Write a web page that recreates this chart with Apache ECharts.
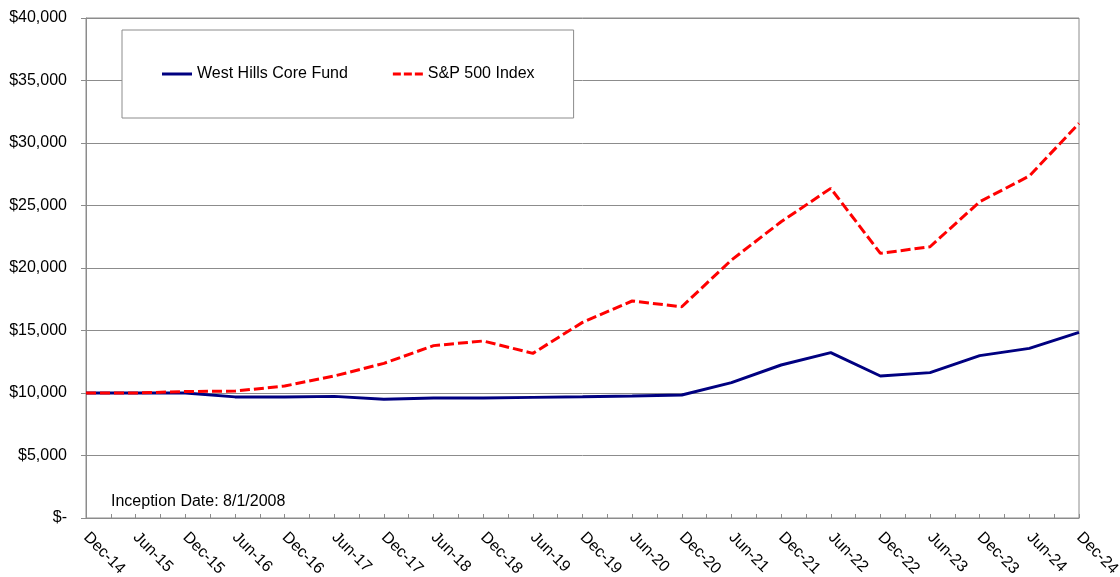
<!DOCTYPE html>
<html>
<head>
<meta charset="utf-8">
<script src="https://cdn.jsdelivr.net/npm/echarts@6/dist/echarts.min.js"></script>
<style>
html,body{margin:0;padding:0;background:#fff;overflow:hidden;}
#chart{width:1120px;height:577px;}
</style>
</head>
<body>
<div id="chart"></div>
<script>
var categories = ['Dec-14','Jun-15','Dec-15','Jun-16','Dec-16','Jun-17','Dec-17','Jun-18','Dec-18','Jun-19','Dec-19','Jun-20','Dec-20','Jun-21','Dec-21','Jun-22','Dec-22','Jun-23','Dec-23','Jun-24','Dec-24'];
var fundValues = [10000,10000,10000,9690,9680,9730,9500,9600,9600,9650,9700,9760,9840,10830,12240,13230,11360,11630,12990,13570,14850];
var spValues = [10000,10000,10120,10150,10560,11360,12370,13790,14160,13170,15650,17360,16900,20640,23700,26370,21170,21700,25300,27360,31570];
var yTicks = [0,5000,10000,15000,20000,25000,30000,35000,40000];
var fundName = 'West Hills Core Fund';
var spName = 'S&P 500 Index';
var noteText = 'Inception Date: 8/1/2008';

function pairs(vals){ return vals.map(function(v,i){ return [i, v]; }); }
function money(v){
  if (v === 0) return '$-';
  return '$' + v.toString().replace(/\B(?=(\d{3})+(?!\d))/g, ',');
}
var FONT = '"Liberation Sans", Arial, sans-serif';
var GRAY = '#8c8c8c';

var chart = echarts.init(document.getElementById('chart'), null, {renderer:'canvas'});
chart.setOption({
  animation: false,
  backgroundColor: '#ffffff',
  textStyle: {fontFamily: FONT},
  grid: {left: 86, right: 41, top: 18, bottom: 59, show: true, borderColor: GRAY, borderWidth: 1,
         containLabel: false, outerBoundsMode: 'none'},
  legend: {
    left: 122, top: 30,
    padding: [36, 39, 36, 40],
    itemGap: 45,
    itemWidth: 30, itemHeight: 3,
    backgroundColor: '#ffffff',
    borderColor: GRAY, borderWidth: 1,
    textStyle: {fontFamily: FONT, fontSize: 16, color: '#000'},
    data: [
      {name: fundName, icon: 'rect'},
      {name: spName, icon: 'path://M0,0h8v3h-8z M11,0h8v3h-8z M22,0h8v3h-8z'}
    ]
  },
  xAxis: {
    type: 'value', min: 0, max: categories.length - 1, interval: 0.5,
    axisLine: {show: true, lineStyle: {color: GRAY, width: 1}},
    axisTick: {show: true, inside: true, length: 4, lineStyle: {color: GRAY}},
    splitLine: {show: false},
    axisLabel: {
      rotate: -45, margin: 17, fontSize: 16, color: '#000', fontFamily: FONT,
      showMinLabel: true, showMaxLabel: true, hideOverlap: false,
      formatter: function(v){ return Number.isInteger(v) ? categories[v] : ''; }
    }
  },
  yAxis: {
    type: 'value', min: yTicks[0], max: yTicks[yTicks.length-1], interval: yTicks[1]-yTicks[0],
    axisLine: {show: true, lineStyle: {color: GRAY, width: 1}},
    axisTick: {show: true, inside: false, length: 5, lineStyle: {color: GRAY}},
    splitLine: {show: true, lineStyle: {color: GRAY, width: 1}},
    axisLabel: {margin: 19, fontSize: 16, color: '#000', fontFamily: FONT, formatter: money}
  },
  graphic: [{
    type: 'text', left: 111, top: 494, z: 10,
    style: {text: noteText, fontSize: 16, fontFamily: FONT, fill: '#000'}
  }],
  series: [
    {name: fundName, type: 'line', data: pairs(fundValues), symbol: 'none', z: 2,
     lineStyle: {color: '#000080', width: 3}, itemStyle: {color: '#000080'}},
    {name: spName, type: 'line', data: pairs(spValues), symbol: 'none', z: 3,
     lineStyle: {color: '#ff0000', width: 3, type: [10, 4]}, itemStyle: {color: '#ff0000'}}
  ]
});
</script>
</body>
</html>
